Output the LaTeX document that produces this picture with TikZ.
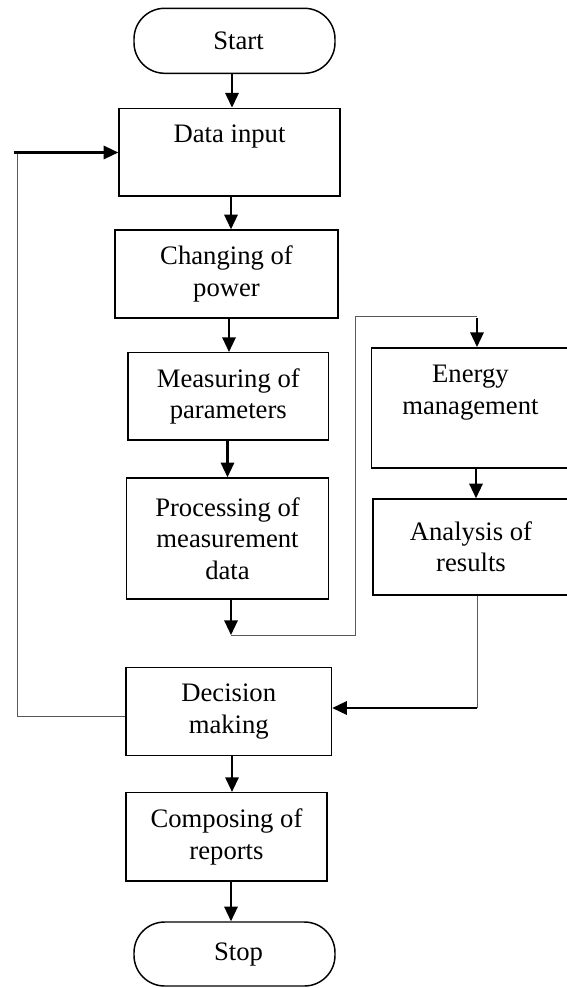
\documentclass[tikz,border=0pt]{standalone}
\usepackage{fontspec}
\setmainfont{Liberation Serif}
\usetikzlibrary{arrows.meta,calc}
\begin{document}
\begin{tikzpicture}[x=0.75pt,y=-0.75pt,
 box/.style={draw,line width=1.1pt,rectangle,inner sep=0pt,align=center,font=\fontsize{20}{23.5}\selectfont},
 pill/.style={box,rounded corners=23pt},
 arr/.style={line width=1.6pt,-{Triangle[length=11pt,width=10pt]}},
 thinline/.style={line width=0.7pt,draw=black!65}
]
\useasboundingbox (0,0) rectangle (567,988);

\node[pill,minimum width=150.75pt,minimum height=48.75pt] (start) at (234.5,40.8) {\hspace*{6pt}Start};
\node[box,minimum width=165.75pt,minimum height=65.8pt] (datain) at (229.5,152.2) {\strut Data input\\\strut};
\node[box,minimum width=167.25pt,minimum height=65.8pt] (change) at (226.5,273.9) {Changing of\\power};
\node[box,minimum width=150.45pt,minimum height=65.5pt] (meas) at (228.3,396.4) {Measuring of\\parameters};
\node[box,minimum width=151.5pt,minimum height=90.75pt] (proc) at (227.5,538.5) {Processing of\\measurement\\data};
\node[box,minimum width=148.5pt,minimum height=90.2pt] (energy) at (470.4,407.9) {\strut Energy\\management\\\strut};
\node[box,minimum width=147pt,minimum height=72pt] (analysis) at (471,547) {Analysis of\\results};
\node[box,minimum width=154.1pt,minimum height=66pt] (decision) at (228.75,711.7) {Decision\\making};
\node[box,minimum width=150.75pt,minimum height=66.2pt] (compose) at (226.5,836.8) {Composing of\\reports};
\node[pill,minimum width=150.75pt,minimum height=48pt] (stop) at (234.5,954) {\hspace*{6pt}Stop};

% coordinates for connector bends
\coordinate (pout) at (231,635);
\coordinate (pb1) at (355,635);
\coordinate (pb2) at (355,316);
\coordinate (pb3) at (477,316);
\coordinate (pb4) at (477,318);
\coordinate (ab1) at (477,708);
\coordinate (fb0) at (126,716);
\coordinate (fb1) at (17.5,716);
\coordinate (fb2) at (17.5,152.5);
\coordinate (fb3) at (13.5,152.5);

% main flow
\draw[arr] (232,73.3) coordinate (s1) -- (s1 |- datain.north);
\draw[arr] (231,196) coordinate (d1) -- (d1 |- change.north);
\draw[arr] (229,317.7) coordinate (c1) -- (c1 |- meas.north);
\draw[arr] (227.5,440) coordinate (m1) -- (m1 |- proc.north);
\draw[arr] (231,599) coordinate (p1) -- (pout);
\draw[thinline] (pout) -- (pb1) -- (pb2) -- (pb3);
\draw[arr] (pb4) -- (pb4 |- energy.north);
\draw[arr] (476,468) coordinate (e1) -- (e1 |- analysis.north);
\draw[thinline] (analysis.south -| ab1) -- (ab1);
\draw[arr] (ab1) -- (ab1 -| decision.east);
\draw[thinline] (decision.west |- fb0) -- (fb1) -- (fb2);
\draw[arr] (fb3) -- (fb3 -| datain.west);
\draw[arr] (232,755.7) coordinate (dm1) -- (dm1 |- compose.north);
\draw[arr] (231,881) coordinate (cp1) -- (cp1 |- stop.north);
\end{tikzpicture}
\end{document}
